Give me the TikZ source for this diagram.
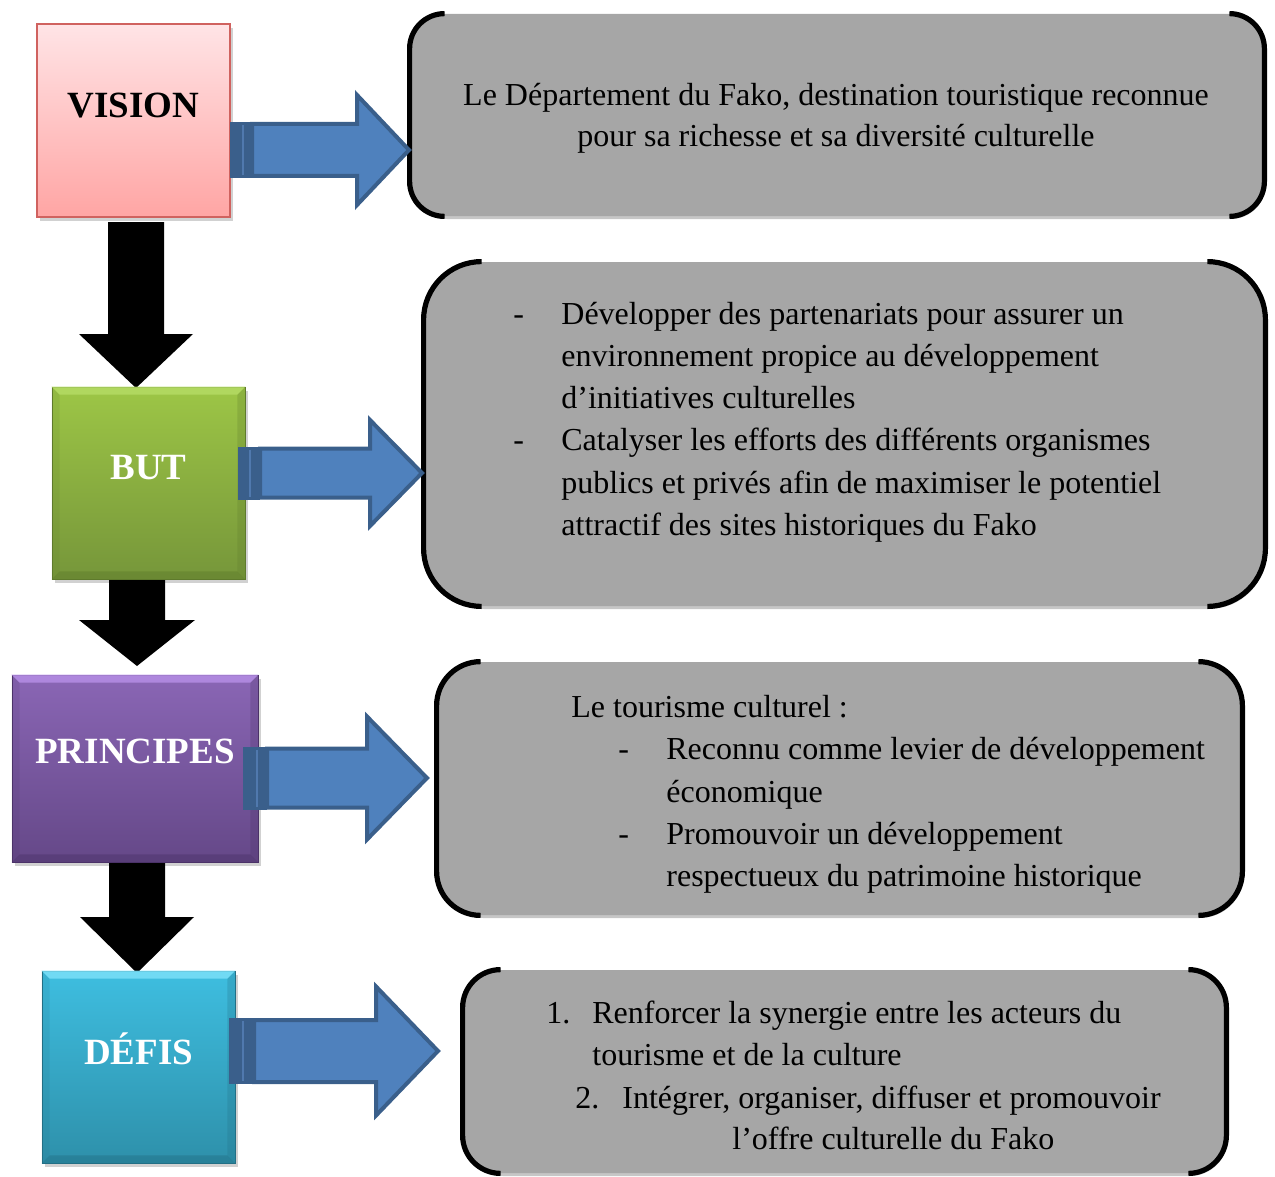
\documentclass[tikz,border=0pt]{standalone}
\usepackage{fontspec}
\setmainfont{Liberation Serif}
\usetikzlibrary{calc,fit}
\definecolor{grayfill}{HTML}{A6A6A6}
\definecolor{arrblue}{HTML}{4F81BD}
\definecolor{arrdark}{HTML}{3A5F8B}
\definecolor{arrline}{HTML}{5079AE}
\definecolor{pinktop}{HTML}{FFE4E6}
\definecolor{pinkbot}{HTML}{FFA5A4}
\definecolor{pinkdraw}{HTML}{D0625F}
\definecolor{greentop}{HTML}{9DC646}
\definecolor{greenbot}{HTML}{76963A}
\definecolor{greenlight}{HTML}{B5DC66}
\definecolor{greendark}{HTML}{5E7A2C}
\definecolor{purptop}{HTML}{8A66B5}
\definecolor{purpbot}{HTML}{654888}
\definecolor{purplight}{HTML}{B890E8}
\definecolor{purpdark}{HTML}{4B3268}
\definecolor{cyantop}{HTML}{3EBEE0}
\definecolor{cyanbot}{HTML}{2E90AA}
\definecolor{cyanlight}{HTML}{7EE2FA}
\definecolor{cyandark}{HTML}{226F85}

\tikzset{
  txt/.style={inner sep=0pt, anchor=base west, font=\fontsize{16.0}{20}\selectfont},
  ctxt/.style={txt, anchor=base},
  lbl/.style={inner sep=0pt, anchor=base, font=\fontsize{18.5}{22}\selectfont\bfseries},
  bracket/.style={draw=black, line width=2.6pt},
}

% gray box: name, x1, y1, x2, y2, radius (pt)
\newcommand{\grayboxdraw}[6]{%
  \fill[gray!45, rounded corners=#6] ({#2+2},{#3+3}) rectangle ({#4+2},{#5+3});
  \node[fit={(#2,#3) (#4,#5)}, inner sep=0pt, fill=grayfill, rounded corners=#6] (#1) {};
  \draw[bracket, rounded corners=#6] ($(#1.north west)+(#6,0pt)$) -- (#1.north west) -- (#1.south west) -- ($(#1.south west)+(#6,0pt)$);
  \draw[bracket, rounded corners=#6] ($(#1.north east)+(-#6,0pt)$) -- (#1.north east) -- (#1.south east) -- ($(#1.south east)+(-#6,0pt)$);
}

% bevel box: name, x1,y1,x2,y2, top, bottom, light, dark
\newcommand{\bevelbox}[9]{%
  \fill[black, opacity=.18] ({#2+3},{#3+4}) rectangle ({#4+3},{#5+4});
  \node[fit={(#2,#3) (#4,#5)}, inner sep=0pt, top color=#6, bottom color=#7, draw=#9, line width=0.4pt] (#1) {};
  \fill[#8, opacity=.8] (#1.north west) -- (#1.north east) -- ($(#1.north east)+(-8,8)$) -- ($(#1.north west)+(8,8)$) -- cycle;
  \fill[#9, opacity=.45] (#1.south west) -- (#1.south east) -- ($(#1.south east)+(-8,-8)$) -- ($(#1.south west)+(8,-8)$) -- cycle;
  \fill[#9, opacity=.15] (#1.north west) -- ($(#1.north west)+(8,8)$) -- ($(#1.south west)+(8,-8)$) -- (#1.south west) -- cycle;
  \fill[#9, opacity=.25] (#1.north east) -- ($(#1.north east)+(-8,8)$) -- ($(#1.south east)+(-8,-8)$) -- (#1.south east) -- cycle;
}

% blue arrow: tail x, dark end x, thin line x, head base x, tip x, centre y, shaft half, head half
\newcommand{\bluearrow}[8]{%
  \fill[arrdark] (#1,{#6-#7-2}) rectangle (#2,{#6+#7+2});
  \draw[arrline, line width=1pt] (#3,{#6-#7+1}) -- (#3,{#6+#7-1});
  \draw[fill=arrblue, draw=arrdark, line width=2pt, line join=miter]
    (#2,{#6-#7}) -- (#4,{#6-#7}) -- (#4,{#6-#8}) -- (#5,#6) -- (#4,{#6+#8}) -- (#4,{#6+#7}) -- (#2,{#6+#7}) -- cycle;
}

% black down arrow: shaft x1, x2, top y, head base y, head x1, head x2, tip y
\newcommand{\blackarrow}[7]{%
  \fill[black] (#1,#3) -- (#2,#3) -- (#2,#4) -- (#6,#4) -- ({(#5+#6)/2},#7) -- (#5,#4) -- (#1,#4) -- cycle;
}

\begin{document}
\begin{tikzpicture}[x=0.5pt,y=-0.5pt]
\useasboundingbox (0,0) rectangle (1275,1177);

% ---------- black connectors ----------
\blackarrow{108}{164}{222}{334}{79}{193}{388}
\blackarrow{109}{165}{578}{620}{79}{195}{666}
\blackarrow{109}{165}{860}{917}{80}{194}{973}

% ---------- left boxes ----------
\fill[black, opacity=.18] (40,28) rectangle (233,221);
\node[fit={(37,24) (230,217)}, inner sep=0pt, top color=pinktop, bottom color=pinkbot, draw=pinkdraw, line width=1pt] (vision) {};
\node[lbl] (visionlbl) at (133.5,118) {VISION};

\bevelbox{but}{52}{387}{245}{579}{greentop}{greenbot}{greenlight}{greendark}
\node[lbl, text=white] (butlbl) at (148.5,479) {BUT};

\bevelbox{principes}{12}{675}{258}{862}{purptop}{purpbot}{purplight}{purpdark}
\node[lbl, text=white] (principeslbl) at (135,763) {PRINCIPES};

\bevelbox{defis}{42}{971}{235}{1163}{cyantop}{cyanbot}{cyanlight}{cyandark}
\node[lbl, text=white] (defislbl) at (138.5,1064) {DÉFIS};

% ---------- gray boxes ----------
\grayboxdraw{g1}{410}{14}{1264}{216}{17.5pt}
\grayboxdraw{g2}{424}{262}{1265}{606}{29pt}
\grayboxdraw{g3}{437}{662}{1242}{915}{22pt}
\grayboxdraw{g4}{463}{970}{1226}{1173}{19pt}

% ---------- blue connectors ----------
\bluearrow{230}{252}{243}{357}{409}{150}{26}{55}
\bluearrow{238}{260}{250}{370}{422}{473}{24.5}{53}
\bluearrow{243}{267}{257}{367}{427}{778}{29.5}{61.5}
\bluearrow{229}{254}{243}{376}{438}{1051}{31}{64.5}

% ---------- texts ----------
\node[ctxt] (t11) at (836,105) {Le Département du Fako, destination touristique reconnue};
\node[ctxt] (t12) at (836,147) {pour sa richesse et sa diversité culturelle};

\node[txt] (d21) at (513,324) {-};
\node[txt] (t21) at (561,324) {Développer des partenariats pour assurer un};
\node[txt] (t22) at (561,366) {environnement propice au développement};
\node[txt] (t23) at (561,408) {d’initiatives culturelles};
\node[txt] (d22) at (513,450) {-};
\node[txt] (t24) at (561,450) {Catalyser les efforts des différents organismes};
\node[txt] (t25) at (561,493) {publics et privés afin de maximiser le potentiel};
\node[txt] (t26) at (561,535) {attractif des sites historiques du Fako};

\node[txt] (t31) at (571,717) {Le tourisme culturel :};
\node[txt] (d31) at (618,759) {-};
\node[txt] (t32) at (666,759) {Reconnu comme levier de développement};
\node[txt] (t33) at (666,802) {économique};
\node[txt] (d32) at (618,844) {-};
\node[txt] (t34) at (666,844) {Promouvoir un développement};
\node[txt] (t35) at (666,886) {respectueux du patrimoine historique};

\node[txt] (n41) at (546,1023) {1.};
\node[txt] (t41) at (592,1023) {Renforcer la synergie entre les acteurs du};
\node[txt] (t42) at (592,1065) {tourisme et de la culture};
\node[txt] (n42) at (575,1108) {2.};
\node[txt] (t43) at (622,1108) {Intégrer, organiser, diffuser et promouvoir};
\node[txt] (t44) at (732,1149) {l’offre culturelle du Fako};
\end{tikzpicture}
\end{document}
